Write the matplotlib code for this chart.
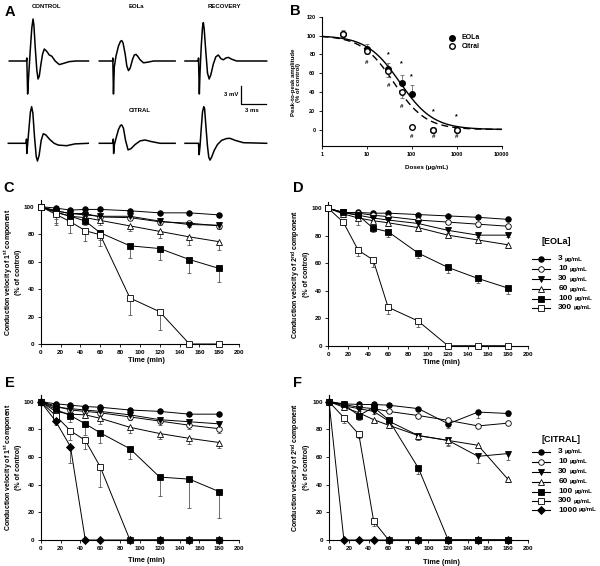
import numpy as np
import matplotlib.pyplot as plt

plt.rcParams['font.family'] = ['Liberation Sans', 'DejaVu Sans']
plt.rcParams['font.weight'] = 'bold'
plt.rcParams['mathtext.default'] = 'regular'

# ---------------- data ----------------
# panel A: action potential traces (ms, mV), relative to start of each trace
ctl_t = [0, 2.05, 2.1, 2.2, 2.3, 2.5, 2.7, 2.85, 2.95, 3.1, 3.3, 3.45, 3.6, 3.8, 4.0, 4.2, 4.5, 4.8, 5.1, 5.5, 6.0, 6.5, 7.2, 8.0, 9.5]
ctl_v = [0, 0, 0.5, -5.5, -3, 1.5, 5.5, 7.0, 6.0, 2.5, -1.5, -3.0, -2.5, -0.5, 1.2, 2.0, 1.6, 1.0, 0.8, 0.0, -0.6, -0.4, -0.1, 0, 0]
eola_t = [0, 1.6, 1.62, 1.7, 1.8, 2.0, 2.3, 2.55, 2.7, 2.85, 3.1, 3.3, 3.5, 3.7, 4.0, 4.2, 4.4, 4.6, 4.9, 5.3, 5.8, 6.5, 9.1]
eola_v = [0, 0, 0.5, -5.5, -1.0, 0.8, 2.5, 3.3, 3.4, 3.0, 1.2, -0.8, -1.6, -1.2, 0.3, 1.0, 1.1, 0.8, 0.2, -0.3, -0.2, 0, 0]
rec1_t = [0, 1.6, 1.62, 1.72, 1.8, 1.95, 2.1, 2.2, 2.3, 2.5, 2.7, 2.9, 3.1, 3.4, 3.7, 4.0, 4.3, 4.6, 4.9, 5.2, 5.6, 6.2, 7.0, 9.8]
rec1_v = [0, 0, 0.5, -5.5, -2.0, 2.5, 5.6, 6.4, 5.4, 1.5, -2.0, -3.0, -2.3, -0.5, 0.7, 1.0, 0.4, 0.2, 0.5, 0.6, 0.3, 0, 0, 0]
ctl2_t = [0, 2.15, 2.18, 2.22, 2.3, 2.45, 2.65, 2.8, 2.95, 3.15, 3.35, 3.5, 3.7, 3.95, 4.2, 4.5, 5.0, 5.5, 6.0, 7.0, 8.0, 9.6]
ctl2_v = [0, 0, 0.7, -1.7, -0.5, 2.0, 5.2, 6.1, 5.0, 1.0, -2.2, -2.95, -2.0, 0.5, 1.6, 1.4, 0.6, 0.0, -0.3, -0.4, -0.1, 0]
cit_t = [0, 1.65, 1.68, 1.72, 1.8, 2.0, 2.3, 2.55, 2.7, 2.9, 3.15, 3.45, 3.8, 4.3, 4.9, 5.5, 6.2, 7.3, 9.1]
cit_v = [0, 0, 0.7, -1.7, -0.3, 0.8, 2.3, 3.0, 3.05, 2.5, 0.5, -1.1, -0.9, -0.2, 0.4, 0.55, 0.3, 0, 0]
rec2_t = [0, 1.62, 1.7, 1.8, 1.95, 2.1, 2.25, 2.35, 2.5, 2.7, 2.85, 3.0, 3.2, 3.5, 3.9, 4.4, 5.0, 5.4, 6.0, 7.0, 9.8]
rec2_v = [0, 0, -1.9, -0.5, 2.5, 5.2, 6.1, 5.8, 3.0, -0.5, -2.3, -2.8, -2.3, -1.2, -0.2, 0.5, 0.8, 0.83, 0.5, 0.1, 0]

# panel B: dose-response
b_dose = [3, 10, 30, 60, 100, 300, 1000]
b_eola = [102, 86, 64.5, 50, 38, 0, 0]
b_eola_err = [4, 5, 6, 8, 9, 0, 0]
b_citral = [102, 84, 62, 40, 3, 0, 0]
b_citral_err = [4, 4, 6, 6, 2, 1, 1]
star_dose = [30, 60, 100, 300, 1000]
star_y = [80, 70, 56.5, 18.5, 14]
hash_dose = [10, 30, 60, 100, 300, 1000]
hash_y = [71.5, 47, 24, -7, -7, -7]
eola_ic50, eola_hill = 55, 1.17
citral_ic50, citral_hill = 40, 1.22

# panels C-F: conduction velocity vs time
time = [0, 15, 30, 45, 60, 90, 120, 150, 180]
eola_doses = ['3', '10', '30', '60', '100', '300']
citral_doses = ['3', '10', '30', '60', '100', '300', '1000']

c3 = [100, 99, 97.5, 98, 98, 97, 95.5, 95.5, 94]
c10 = [100, 97, 95, 95, 92.5, 92, 89, 88, 86]
c30 = [100, 97, 95, 94, 93, 93, 89.5, 87, 86.5]
c60 = [100, 96, 93, 92, 90, 86, 82, 78, 74.5]
c100 = [100, 96, 93, 89.5, 81, 71.5, 69.5, 61.5, 55]
c300 = [100, 94.5, 89, 82.5, 79.5, 33.5, 23.5, 0, 0]
c3_err = [0, 1, 1, 1, 1, 1, 1, 1, 1.5]
c10_err = [0, 2, 2, 2, 2, 2, 2, 2, 2]
c30_err = [0, 4, 3, 2, 2, 2, 2, 2, 2]
c60_err = [0, 5, 4, 3, 3, 4, 5, 6, 6]
c100_err = [0, 8, 4, 3, 5, 9, 8.5, 9.5, 9.5]
c300_err = [0, 8, 8.5, 7.5, 8, 12.5, 13, 0, 0]

d3 = [100, 97, 97, 96.5, 96.5, 95.5, 94.5, 93.5, 92]
d10 = [100, 97, 96.5, 95, 94, 91.5, 90, 88.5, 87]
d30 = [100, 97, 95, 93, 91.5, 89, 84, 80.5, 80.5]
d60 = [100, 96, 93, 91, 89.5, 86, 80.5, 77, 73.5]
d100 = [100, 97, 95, 85.5, 83, 67.5, 57, 49, 42]
d300 = [100, 90, 69.5, 62.5, 28, 18, 0, 0, 0]
d3_err = [0, 1, 1, 1, 1, 1, 1, 1, 1.5]
d10_err = [0, 1.5, 1.5, 1.5, 1.5, 1.5, 1.5, 2, 2]
d30_err = [0, 2, 2, 2, 2, 2, 2, 1.5, 1.5]
d60_err = [0, 2, 5, 2, 2, 2.5, 2, 2.5, 2.5]
d100_err = [0, 2, 2, 3, 3.5, 3.5, 4, 3.5, 4]
d300_err = [0, 2, 4, 5, 5, 4.5, 0, 0, 0]

e3 = [100, 98.5, 97.5, 96.5, 96, 94, 93, 91, 91]
e10 = [100, 97, 94, 93, 92, 89, 86, 83, 80.5]
e30 = [100, 96, 95, 94, 93, 90.5, 87, 85.5, 84]
e60 = [100, 93, 91, 90.5, 88, 81.5, 77, 73.5, 70.5]
e100 = [100, 94.5, 90, 84, 77.5, 66, 45.5, 44, 35]
e300 = [100, 90, 79, 72, 53, 0, 0, 0, 0]
e1000 = [100, 86, 67.5, 0, 0, 0, 0, 0, 0]
e3_err = [0, 1, 1, 1, 1, 1, 1, 1.5, 1.5]
e10_err = [0, 1.5, 2, 2, 2, 2, 3, 3, 3]
e30_err = [0, 1.5, 2, 2, 2, 2, 2, 2, 2]
e60_err = [0, 2, 2, 2, 4, 4, 4, 4, 4]
e100_err = [0, 2, 5, 8, 7, 7.5, 14, 21, 19]
e300_err = [0, 2, 7, 6, 14.5, 0, 0, 0, 0]
e1000_err = [0, 3, 12, 0, 0, 0, 0, 0, 0]

f3 = [100, 98.5, 98, 98, 97.5, 95, 84, 92.5, 91.5]
f10 = [100, 98, 96, 95, 93, 90, 86.5, 82.5, 84.5]
f30 = [100, 97, 95, 93, 86, 75.5, 72, 60.5, 62.5]
f60 = [100, 96, 92, 87, 83, 75.5, 72, 68.5, 44]
f100 = [100, 98, 90, 96, 87, 52, 0, 0, 0]
f300 = [100, 88.5, 76.5, 13.5, 0, 0, 0, 0, 0]
f1000 = [100, 0, 0, 0, 0, 0, 0, 0, 0]
f3_err = [0, 1, 1, 1, 1, 1.5, 3, 4, 1.5]
f10_err = [0, 1, 1, 1, 1, 1.5, 1.5, 1.5, 1.5]
f30_err = [0, 2, 2, 2, 2, 3, 3, 5, 5]
f60_err = [0, 2, 2, 2, 2, 3, 4, 2, 2]
f100_err = [0, 2, 3, 2, 2, 4, 0, 0, 0]
f300_err = [0, 4, 3, 3.5, 0, 0, 0, 0, 0]
f1000_err = [0, 0, 0, 0, 0, 0, 0, 0, 0]

# ---------------- layout ----------------
W, H = 600, 566
fig = plt.figure(figsize=(6, 5.66), dpi=100)


def box(l, t, r, b):
    return [l / W, 1 - b / H, (r - l) / W, (b - t) / H]


styles = {'3': ('o', 'k'), '10': ('o', 'w'), '30': ('v', 'k'), '60': ('^', 'w'),
          '100': ('s', 'k'), '300': ('s', 'w'), '1000': ('D', 'k')}

# panel A
PX_MS, PX_MV = 25 / 3, 6.0
ax_a = fig.add_axes(box(0, 0, 290, 170))
ax_a.set_xlim(0, 290 / PX_MS)
ax_a.set_ylim(-170 / PX_MV, 0)
ax_a.axis('off')
traces = [(ctl_t, ctl_v, 9.3, 61), (eola_t, eola_v, 99.3, 61), (rec1_t, rec1_v, 185, 61),
          (ctl2_t, ctl2_v, 8.3, 143.3), (cit_t, cit_v, 99.3, 143.3), (rec2_t, rec2_v, 185, 143.3)]
for t, v, x0, y0 in traces:
    ax_a.plot(np.array(t) + x0 / PX_MS, np.array(v) - y0 / PX_MV, color='k', lw=1.1)
sx, sy = 240.7 / PX_MS, -104.3 / PX_MV
ax_a.plot([sx, sx, sx + 3], [sy + 3, sy, sy], color='k', lw=0.9)

# panel B
ax_b = fig.add_axes(box(321.7, 16.7, 501.7, 145.7))
ax_b.set_xscale('log')
ax_b.set_xlim(1, 10000)
ax_b.set_ylim(-17.2, 120)
xx = np.logspace(0, 4, 300)
ax_b.plot(xx, 100 / (1 + (xx / eola_ic50) ** eola_hill), color='k', lw=1.0)
ax_b.plot(xx, 100 / (1 + (xx / citral_ic50) ** citral_hill), color='k', lw=1.0, dashes=(5, 3))
zeros7 = np.zeros(len(b_dose))
ax_b.errorbar(b_dose, b_eola, yerr=[zeros7, b_eola_err], fmt='none', ecolor='#666666',
              elinewidth=0.6, capsize=1.5, capthick=0.6)
ax_b.errorbar(b_dose, b_citral, yerr=[b_citral_err, zeros7], fmt='none', ecolor='#666666',
              elinewidth=0.6, capsize=1.5, capthick=0.6)
ax_b.plot(b_dose, b_eola, 'o', color='k', ms=4, zorder=3)
ax_b.plot(b_dose, b_citral, 'o', mfc='w', mec='k', mew=1.0, ms=4, zorder=4)
for x, y in zip(star_dose, star_y):
    ax_b.text(x, y, '*', ha='center', va='center', fontsize=5)
for x, y in zip(hash_dose, hash_y):
    ax_b.text(x, y, '#', ha='center', va='center', fontsize=4.5)
ax_b.set_xticks([1, 10, 100, 1000, 10000])
ax_b.set_xticklabels(['1', '10', '100', '1000', '10000'])
ax_b.xaxis.set_minor_locator(plt.NullLocator())
ax_b.set_yticks(range(0, 121, 20))
for s in ['top', 'right']:
    ax_b.spines[s].set_visible(False)
for s in ['left', 'bottom']:
    ax_b.spines[s].set_linewidth(0.8)
ax_b.tick_params(labelsize=4, length=2, width=0.6, pad=2.5)


def time_panel(rect, vals, errs, doses):
    ax = fig.add_axes(rect)
    zeros = np.zeros(len(time))
    for v, e in zip(vals, errs):
        ax.errorbar(time, v, yerr=[e, zeros], fmt='none', ecolor='#555555', elinewidth=0.6,
                    capsize=1.5, capthick=0.6, zorder=2, clip_on=False)
    for v, d in zip(vals, doses):
        m, fc = styles[d]
        ax.plot(time, v, color='k', lw=0.7, marker=m, mfc=fc, mec='k', mew=0.6,
                ms=3.6 if m == 'D' else 4, zorder=3, clip_on=False)
    ax.set_xlim(0, 200)
    ax.set_ylim(0, 105)
    ax.set_xticks(range(0, 201, 20))
    ax.set_yticks(range(0, 101, 20))
    for s in ['top', 'right']:
        ax.spines[s].set_visible(False)
    for s in ['left', 'bottom']:
        ax.spines[s].set_linewidth(0.8)
    ax.tick_params(labelsize=4.5, length=2, width=0.6, pad=2.5)
    return ax


time_panel(box(40.7, 199.8, 239, 344), [c3, c10, c30, c60, c100, c300],
           [c3_err, c10_err, c30_err, c60_err, c100_err, c300_err], eola_doses)
time_panel(box(328.3, 201.5, 527.7, 345.7), [d3, d10, d30, d60, d100, d300],
           [d3_err, d10_err, d30_err, d60_err, d100_err, d300_err], eola_doses)
time_panel(box(40.7, 394.8, 239, 540), [e3, e10, e30, e60, e100, e300, e1000],
           [e3_err, e10_err, e30_err, e60_err, e100_err, e300_err, e1000_err], citral_doses)
time_panel(box(329, 394.8, 527.7, 540), [f3, f10, f30, f60, f100, f300, f1000],
           [f3_err, f10_err, f30_err, f60_err, f100_err, f300_err, f1000_err], citral_doses)

# overlay for labels and legends (pixel coordinates)
ov = fig.add_axes([0, 0, 1, 1])
ov.set_xlim(0, W)
ov.set_ylim(H, 0)
ov.axis('off')

for letter, x, y in [('A', 10, 12), ('B', 295, 11), ('C', 9, 188), ('D', 298, 188),
                     ('E', 10, 383), ('F', 297, 383)]:
    ov.text(x, y, letter, fontsize=10.5, ha='center', va='center')

for txt, x, y in [('CONTROL', 47, 6), ('EOLa', 136, 6), ('RECOVERY', 224, 6),
                  ('CITRAL', 140, 110), ('3 mV', 231, 94), ('3 ms', 252, 111)]:
    ov.text(x, y, txt, fontsize=4.3, ha='center', va='center')

ov.text(296, 82, 'Peak-to-peak amplitude\n(% of control)', rotation=90, fontsize=4.3,
        ha='center', va='center', multialignment='center', linespacing=1.0)
ov.text(427, 167, 'Doses (µg/mL)', fontsize=4.5, ha='center', va='center')
ov.plot([451.7], [37.7], 'o', color='k', ms=4)
ov.plot([451.7], [46], 'o', mfc='w', mec='k', mew=1.0, ms=4)
ov.text(462, 37.7, 'EOLa', fontsize=5, va='center')
ov.text(462, 46, 'Citral', fontsize=5, va='center')

for comp, x, y in [('1$^{st}$', 12.5, 272), ('2$^{nd}$', 299.5, 274),
                   ('1$^{st}$', 12.5, 467), ('2$^{nd}$', 299.5, 467)]:
    ov.text(x, y, 'Conduction velocity of ' + comp + ' component\n(% of control)', rotation=90,
            fontsize=5, ha='center', va='center', multialignment='center', linespacing=1.05)
for x, y in [(146, 361), (441, 362.5), (146, 561), (441, 562)]:
    ov.text(x, y, 'Time (min)', fontsize=5.2, ha='center', va='center')


def dose_legend(title, tx, ty, rows_y, doses):
    ov.text(tx, ty, title, fontsize=6.5, ha='center', va='center')
    for y, d in zip(rows_y, doses):
        m, fc = styles[d]
        ov.plot([531.7, 540.8, 550], [y, y, y], color='k', lw=0.8, marker=m, mfc=fc, mec='k',
                mew=0.6, ms=4, markevery=[1])
        num = ov.text(558.3, y, d, fontsize=6, va='center')
        ov.annotate('µg/mL', xy=(1, 0.5), xycoords=num, xytext=(1.2, 0), textcoords='offset points',
                    fontsize=4.3, va='center')


dose_legend('[EOLa]', 556.7, 241.7, [259, 269, 279, 289, 298.5, 307.5], eola_doses)
dose_legend('[CITRAL]', 560.7, 439.3, [451.7, 461.7, 471.7, 481.7, 491.7, 501, 510], citral_doses)

fig.savefig('out.png', dpi=100)
